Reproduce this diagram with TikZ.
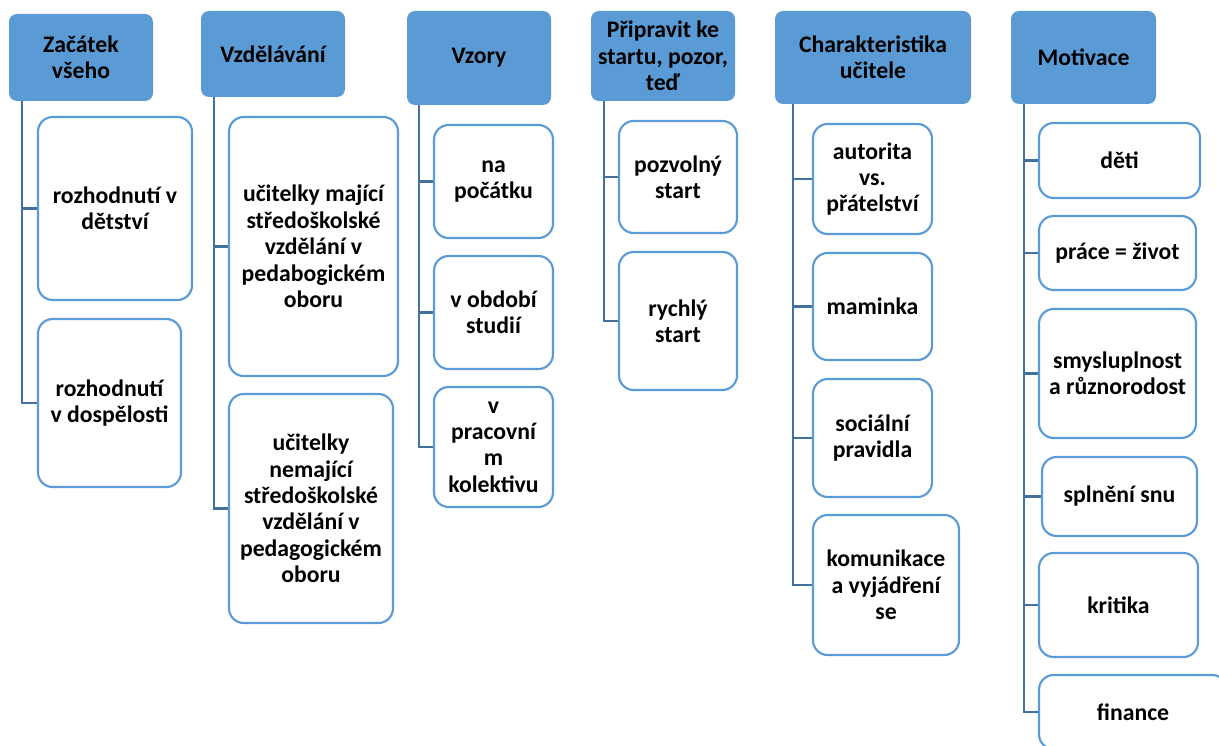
\documentclass[tikz,border=0pt]{standalone}
\usepackage{fontspec}
\setmainfont{Carlito}
\usetikzlibrary{backgrounds}
\definecolor{hdrfill}{HTML}{5B9BD5}
\definecolor{kidline}{HTML}{5B9BD5}
\definecolor{connline}{HTML}{41719C}
\newcommand\mkbox[7]{%
 \pgfmathsetmacro\cx{(#3+#5)/2}\pgfmathsetmacro\cy{(#4+#6)/2}%
 \pgfmathsetmacro\bw{(#5-#3)*0.75}\pgfmathsetmacro\bh{(#6-#4)*0.75}%
 \node[#1, minimum width=\bw pt, minimum height=\bh pt] (#2) at (\cx,\cy) {#7};}
\begin{document}
\begin{tikzpicture}[x=0.75pt,y=-0.75pt,
  every node/.style={font=\fontsize{17.8}{19.8}\selectfont\bfseries, align=center, inner sep=0pt, text=black},
  hdr/.style={rectangle, fill=hdrfill, draw=none, rounded corners=6pt},
  kid/.style={rectangle, fill=white, draw=kidline, line width=1.6pt, rounded corners=11pt},
  conn/.style={draw=connline, line width=2.1pt}]
\useasboundingbox (0,0) rectangle (1219,745);
\clip (0,0) rectangle (1219,745);
% headers
\mkbox{hdr}{h1}{9}{14}{153}{101}{Začátek\\všeho}
\mkbox{hdr}{h2}{201}{11}{345}{97}{Vzdělávání}
\mkbox{hdr}{h3}{407}{11}{551}{105}{Vzory}
\mkbox{hdr}{h4}{591}{11}{735}{101}{Připravit ke\\startu, pozor,\\teď}
\mkbox{hdr}{h5}{775}{11}{971}{104}{Charakteristika\\učitele}
\mkbox{hdr}{h6}{1011}{11}{1156}{104}{Motivace}
% column 1
\mkbox{kid}{c11}{38}{117}{192}{300}{rozhodnutí v\\dětství}
\mkbox{kid}{c12}{38}{319}{181}{487}{rozhodnutí\\v dospělosti}
% column 2
\mkbox{kid}{c21}{229}{117}{398}{376}{učitelky mající\\středoškolské\\vzdělání v\\pedabogickém\\oboru}
\mkbox{kid}{c22}{229}{394}{393}{623}{učitelky\\nemající\\středoškolské\\vzdělání v\\pedagogickém\\oboru}
% column 3
\mkbox{kid}{c31}{434}{125}{553}{238}{na\\počátku}
\mkbox{kid}{c32}{434}{256}{553}{369}{v období\\studií}
\mkbox{kid}{c33}{434}{387}{553}{507}{v\\pracovní\\m\\kolektivu}
% column 4
\mkbox{kid}{c41}{619}{121}{737}{233}{pozvolný\\start}
\mkbox{kid}{c42}{619}{252}{737}{390}{rychlý\\start}
% column 5
\mkbox{kid}{c51}{813}{124}{932}{234}{autorita\\vs.\\přátelství}
\mkbox{kid}{c52}{813}{253}{932}{360}{maminka}
\mkbox{kid}{c53}{813}{379}{932}{497}{sociální\\pravidla}
\mkbox{kid}{c54}{813}{515}{959}{655}{komunikace\\a vyjádření\\se}
% column 6
\mkbox{kid}{c61}{1039}{123}{1200}{198}{děti}
\mkbox{kid}{c62}{1039}{216}{1196}{290}{práce = život}
\mkbox{kid}{c63}{1039}{309}{1196}{438}{smysluplnost\\a různorodost}
\mkbox{kid}{c64}{1042}{457}{1197}{536}{splnění snu}
\mkbox{kid}{c65}{1039}{553}{1198}{657}{kritika}
\mkbox{kid}{c66}{1039}{675}{1227}{749}{finance}
% connector tops
\coordinate (t1) at (22,101);
\coordinate (t2) at (214,97);
\coordinate (t3) at (419,105);
\coordinate (t4) at (604,101);
\coordinate (t5) at (793,104);
\coordinate (t6) at (1024,104);
\begin{scope}[on background layer]
\draw[conn] (t1) |- (c11.west);
\draw[conn] (t1) |- (c12.west);
\draw[conn] (t2) |- (c21.west);
\draw[conn] (t2) |- (c22.west);
\draw[conn] (t3) |- (c31.west);
\draw[conn] (t3) |- (c32.west);
\draw[conn] (t3) |- (c33.west);
\draw[conn] (t4) |- (c41.west);
\draw[conn] (t4) |- (c42.west);
\draw[conn] (t5) |- (c51.west);
\draw[conn] (t5) |- (c52.west);
\draw[conn] (t5) |- (c53.west);
\draw[conn] (t5) |- (c54.west);
\draw[conn] (t6) |- (c61.west);
\draw[conn] (t6) |- (c62.west);
\draw[conn] (t6) |- (c63.west);
\draw[conn] (t6) |- (c64.west);
\draw[conn] (t6) |- (c65.west);
\draw[conn] (t6) |- (c66.west);
\end{scope}
\end{tikzpicture}
\end{document}
